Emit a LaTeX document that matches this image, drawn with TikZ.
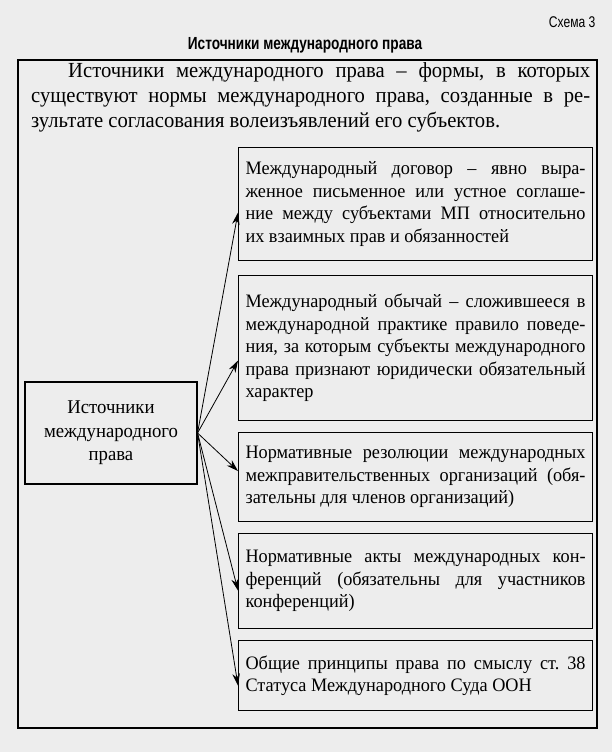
\documentclass[tikz,border=0pt]{standalone}
\usepackage{fontspec}
\setmainfont{Liberation Serif}[FakeStretch=0.96]
\newfontfamily\headfont{Liberation Sans}[FakeStretch=0.78]
\usetikzlibrary{arrows.meta}
\frenchspacing

\begin{document}
\begin{tikzpicture}[x=1pt, y=-1pt, >={Stealth[length=12pt, width=7.5pt]},
    srcbox/.style={draw, line width=1.1pt, align=center, font=\fontsize{19.5}{23.5}\selectfont},
    kindbox/.style={draw, line width=1.1pt, anchor=north west, text width=340pt, inner xsep=7pt, inner ysep=0pt, align=justify, font=\fontsize{19}{22.5}\selectfont}]
    \useasboundingbox[fill=black!7] (0,0) rectangle (612,752);

    \node[anchor=east, font=\headfont\fontsize{15.5}{17}\selectfont] (scheme) at (599,22) {Схема 3};
    \node[font=\headfont\bfseries\fontsize{17.5}{19}\selectfont] (title) at (305,45) {Источники международного права};
    \draw[line width=1.1pt] (18,60) rectangle (597,728);

    \node[anchor=north west, inner sep=0pt, text width=559pt, align=justify, font=\fontsize{21.5}{25}\selectfont] (defn) at (31,62)
        {\hspace*{37pt}Источники международного права – формы, в которых\linebreak существуют нормы международного права, созданные в ре-\linebreak зультате согласования волеизъявлений его субъектов.};

    \node[srcbox, minimum width=172pt, minimum height=102pt] (src) at (111,433) {Источники\\международного\\права};

    \node[kindbox, minimum height=113pt] (t1) at (238,147)
        {Международный договор – явно выра-\linebreak женное письменное или устное соглаше-\linebreak ние между субъектами МП относительно\linebreak их взаимных прав и обязанностей};
    \node[kindbox, minimum height=145pt] (t2) at (238,275)
        {Международный обычай – сложившееся в\linebreak международной практике правило поведе-\linebreak ния, за которым субъекты международного\linebreak права признают юридически обязательный\linebreak характер};
    \node[kindbox, minimum height=89pt] (t3) at (238,432)
        {Нормативные резолюции международных\linebreak межправительственных организаций (обя-\linebreak зательны для членов организаций)};
    \node[kindbox, minimum height=95pt] (t4) at (238,533)
        {Нормативные акты международных кон-\linebreak ференций (обязательны для участников\linebreak конференций)};
    \node[kindbox, minimum height=70pt] (t5) at (238,640)
        {Общие принципы права по смыслу ст. 38\linebreak Статуса Международного Суда ООН};

    % arrows from the source box to each kind
    \foreach \t/\dy in {t1/-8.5, t2/-12.5, t3/6, t4/-9.5, t5/-10}
        \draw[->, line width=0.8pt] (src.east) -- ([yshift=\dy pt]\t.west);
\end{tikzpicture}
\end{document}
